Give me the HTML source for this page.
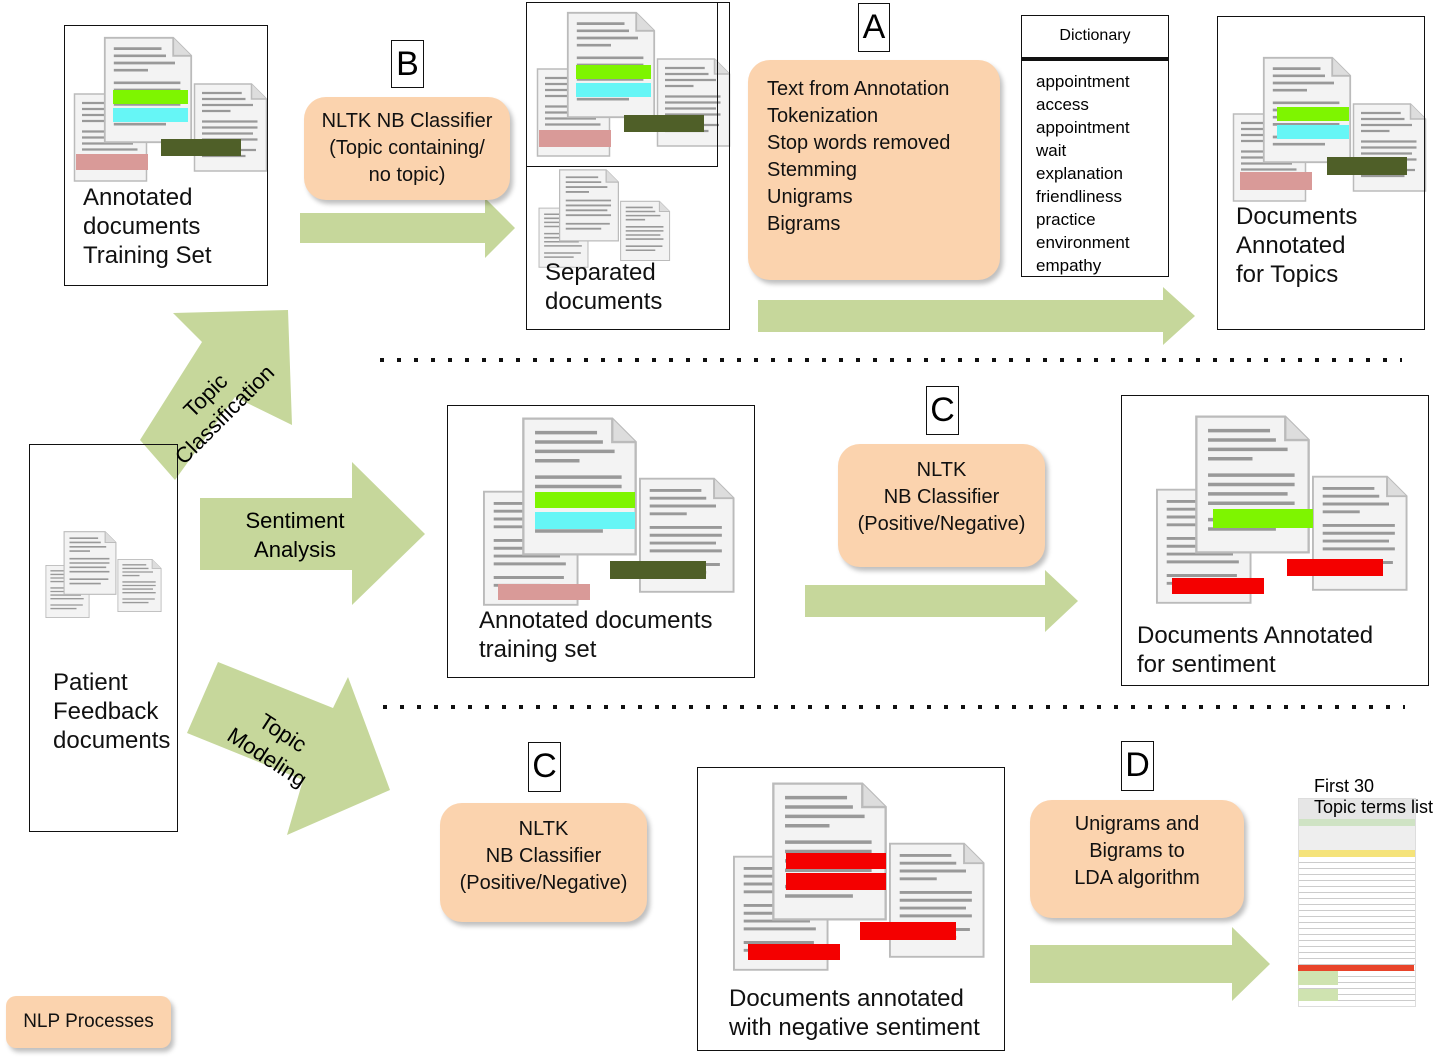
<!DOCTYPE html>
<html><head><meta charset="utf-8"><style>
body{margin:0;width:1448px;height:1059px;background:#fff;position:relative;overflow:hidden;font-family:"Liberation Sans",sans-serif;}
.a{position:absolute}
.box{position:absolute;border:1.5px solid #111;background:#fff;box-sizing:border-box}
.or{position:absolute;background:#fbd3ae;border-radius:22px;box-shadow:3px 4px 5px rgba(0,0,0,.25);text-align:center;font-size:20px;line-height:27px;color:#111;box-sizing:border-box}
.lab{position:absolute;border:1.5px solid #111;background:#fff;font-size:34px;text-align:center;line-height:46px;box-sizing:border-box}
.t{position:absolute;font-size:24px;line-height:29px;color:#111}
svg{position:absolute;left:0;top:0}
</style></head><body>
<svg width="1448" height="1059">
<defs>
<symbol id="pg" viewBox="0 0 100 120">
<path d="M2 2 H78 L98 22 V118 H2 Z" fill="#f3f3f3" stroke="#bbb" stroke-width="2"/>
<path d="M78 2 V22 H98" fill="#ddd" stroke="#bbb" stroke-width="2"/>
<g stroke="#999" stroke-width="3">
<line x1="12" y1="14" x2="65" y2="14"/><line x1="12" y1="22" x2="70" y2="22"/><line x1="12" y1="30" x2="80" y2="30"/><line x1="12" y1="38" x2="50" y2="38"/>
<line x1="12" y1="52" x2="86" y2="52"/><line x1="12" y1="60" x2="86" y2="60"/><line x1="12" y1="68" x2="80" y2="68"/><line x1="12" y1="76" x2="86" y2="76"/><line x1="12" y1="90" x2="84" y2="90"/><line x1="12" y1="98" x2="70" y2="98"/></g>
</symbol>
<g id="cl">
<use href="#pg" x="0" y="55" width="75" height="95"/>
<use href="#pg" x="120" y="45" width="75" height="95"/>
<use href="#pg" x="30" y="0" width="90" height="110"/>
</g>
</defs>
<g transform="translate(73,35)"><use href="#cl"/><rect x="40" y="55" width="75" height="14" fill="#7ef500"/><rect x="40" y="73" width="75" height="14" fill="#66f6f6"/><rect x="3" y="119" width="72" height="16" fill="#d99a98"/><rect x="88" y="104" width="80" height="17" fill="#4f5f28"/></g>
<g transform="translate(536,10)"><use href="#cl"/><rect x="40" y="55" width="75" height="14" fill="#7ef500"/><rect x="40" y="73" width="75" height="14" fill="#66f6f6"/><rect x="3" y="120" width="72" height="17" fill="#d99a98"/><rect x="88" y="105" width="80" height="17" fill="#4f5f28"/></g>
<g transform="translate(538,168) scale(0.68)"><use href="#cl"/></g>
<g transform="translate(1232,55)"><use href="#cl"/><rect x="45" y="52" width="72" height="14" fill="#7ef500"/><rect x="45" y="70" width="72" height="14" fill="#66f6f6"/><rect x="8" y="117" width="72" height="18" fill="#d99a98"/><rect x="95" y="102" width="80" height="18" fill="#4f5f28"/></g>
<g transform="translate(45,530) scale(0.6)"><use href="#cl"/></g>
<g transform="translate(482,415) scale(1.3)"><use href="#cl"/></g>
<rect x="535" y="492" width="100" height="16" fill="#7ef500"/><rect x="535" y="512" width="100" height="17" fill="#66f6f6"/><rect x="498" y="584" width="92" height="16" fill="#d99a98"/><rect x="610" y="561" width="96" height="18" fill="#4f5f28"/>
<g transform="translate(1155,413) scale(1.3)"><use href="#cl"/></g>
<rect x="1213" y="509" width="100" height="19" fill="#7ef500"/><rect x="1172" y="578" width="92" height="16" fill="#f40000"/><rect x="1287" y="559" width="96" height="17" fill="#f40000"/>
<g transform="translate(732,780) scale(1.3)"><use href="#cl"/></g>
<rect x="786" y="853" width="100" height="16" fill="#f40000"/><rect x="786" y="873" width="100" height="17" fill="#f40000"/><rect x="748" y="944" width="92" height="16" fill="#f40000"/><rect x="860" y="922" width="96" height="18" fill="#f40000"/>
<g fill="#c6d79b">
<polygon points="300,213 485,213 485,198 515,228 485,258 485,243 300,243"/>
<polygon points="758,300 1163,300 1163,287 1195,316 1163,345 1163,332 758,332"/>
<polygon points="140,440 202,342 173,313 288,310 292,425 235,397 175,480"/>
<polygon points="200,498 352,498 352,462 425,534 352,605 352,570 200,570"/>
<polygon points="218,662 333,708 348,677 390,790 287,835 303,780 187,733"/>
<polygon points="805,585 1045,585 1045,570 1078,601 1045,632 1045,617 805,617"/>
<polygon points="1030,945 1232,945 1232,927 1270,964 1232,1001 1232,983 1030,983"/>
</g>
<line x1="380" y1="360" x2="1402" y2="360" stroke="#111" stroke-width="4" stroke-dasharray="4,13"/>
<line x1="383" y1="707" x2="1405" y2="707" stroke="#111" stroke-width="4" stroke-dasharray="4,13"/>
</svg>

<div class="box" style="left:64px;top:25px;width:204px;height:261px;background:transparent"></div>
<div class="t" style="left:83px;top:183px">Annotated<br>documents<br>Training Set</div>

<div class="lab" style="left:391px;top:40px;width:33px;height:48px">B</div>
<div class="or" style="left:304px;top:97px;width:206px;height:103px;padding-top:11px">NLTK NB Classifier<br>(Topic containing/<br>no topic)</div>

<div class="box" style="left:526px;top:2px;width:204px;height:328px;background:transparent"></div>
<div class="box" style="left:526px;top:2px;width:192px;height:165px;background:transparent"></div>
<div class="t" style="left:545px;top:258px">Separated<br>documents</div>

<div class="lab" style="left:858px;top:3px;width:32px;height:49px">A</div>
<div class="or" style="left:748px;top:60px;width:252px;height:220px;text-align:left;padding:16px 0 0 19px">Text from Annotation<br>Tokenization<br>Stop words removed<br>Stemming<br>Unigrams<br>Bigrams</div>

<div class="box" style="left:1021px;top:15px;width:148px;height:262px"></div>
<div class="a" style="left:1021px;top:27px;width:148px;text-align:center;font-size:16px">Dictionary</div>
<div class="a" style="left:1022px;top:57px;width:146px;height:4px;background:#111"></div>
<div class="a" style="left:1036px;top:70px;font-size:17px;line-height:23px">appointment<br>access<br>appointment<br>wait<br>explanation<br>friendliness<br>practice<br>environment<br>empathy</div>

<div class="box" style="left:1217px;top:16px;width:208px;height:314px;background:transparent"></div>
<div class="t" style="left:1236px;top:202px">Documents<br>Annotated<br>for Topics</div>

<div class="box" style="left:29px;top:444px;width:149px;height:388px;background:transparent"></div>
<div class="t" style="left:53px;top:668px">Patient<br>Feedback<br>documents</div>

<div class="a" style="left:125px;top:378px;width:180px;text-align:center;font-size:22px;line-height:27px;transform:rotate(-45deg)">Topic<br>Classification</div>
<div class="a" style="left:205px;top:506px;width:180px;text-align:center;font-size:22px;line-height:29px">Sentiment<br>Analysis</div>
<div class="a" style="left:185px;top:716px;width:180px;text-align:center;font-size:22px;line-height:29px;transform:rotate(33deg)">Topic<br>Modeling</div>

<div class="box" style="left:447px;top:405px;width:308px;height:273px;background:transparent"></div>
<div class="t" style="left:479px;top:606px">Annotated documents<br>training set</div>

<div class="lab" style="left:926px;top:386px;width:33px;height:49px">C</div>
<div class="or" style="left:838px;top:444px;width:207px;height:123px;padding-top:13px">NLTK<br>NB Classifier<br>(Positive/Negative)</div>

<div class="box" style="left:1121px;top:395px;width:308px;height:291px;background:transparent"></div>
<div class="t" style="left:1137px;top:621px">Documents Annotated<br>for sentiment</div>

<div class="lab" style="left:528px;top:742px;width:33px;height:50px">C</div>
<div class="or" style="left:440px;top:803px;width:207px;height:119px;padding-top:13px">NLTK<br>NB Classifier<br>(Positive/Negative)</div>

<div class="box" style="left:697px;top:767px;width:308px;height:284px;background:transparent"></div>
<div class="t" style="left:729px;top:984px">Documents annotated<br>with negative sentiment</div>

<div class="lab" style="left:1121px;top:741px;width:33px;height:50px">D</div>
<div class="or" style="left:1030px;top:800px;width:214px;height:118px;padding-top:11px">Unigrams and<br>Bigrams to<br>LDA algorithm</div>

<div class="a" style="left:1298px;top:798px;width:116px;height:207px;background:#fff;border:1px solid #ddd;overflow:hidden">
<div style="height:20px;background:#e6e6e6"></div>
<div style="height:7px;background:#cfe3c4"></div>
<div style="height:24px;background:#eee"></div>
<div style="height:7px;background:#f5e37a"></div>
<div style="height:149px;background:repeating-linear-gradient(#fff 0 5px,#ccc 5px 6px)"></div>
</div>
<div class="a" style="left:1298px;top:965px;width:116px;height:6px;background:#e8442a"></div>
<div class="a" style="left:1298px;top:971px;width:40px;height:14px;background:#cfe3b0"></div>
<div class="a" style="left:1298px;top:989px;width:40px;height:12px;background:#cfe3b0"></div>
<div class="a" style="left:1314px;top:776px;font-size:18px;line-height:21px">First 30<br>Topic terms list</div>

<div class="or" style="left:6px;top:996px;width:165px;height:52px;border-radius:10px;line-height:52px;font-size:19px">NLP Processes</div>
</body></html>
